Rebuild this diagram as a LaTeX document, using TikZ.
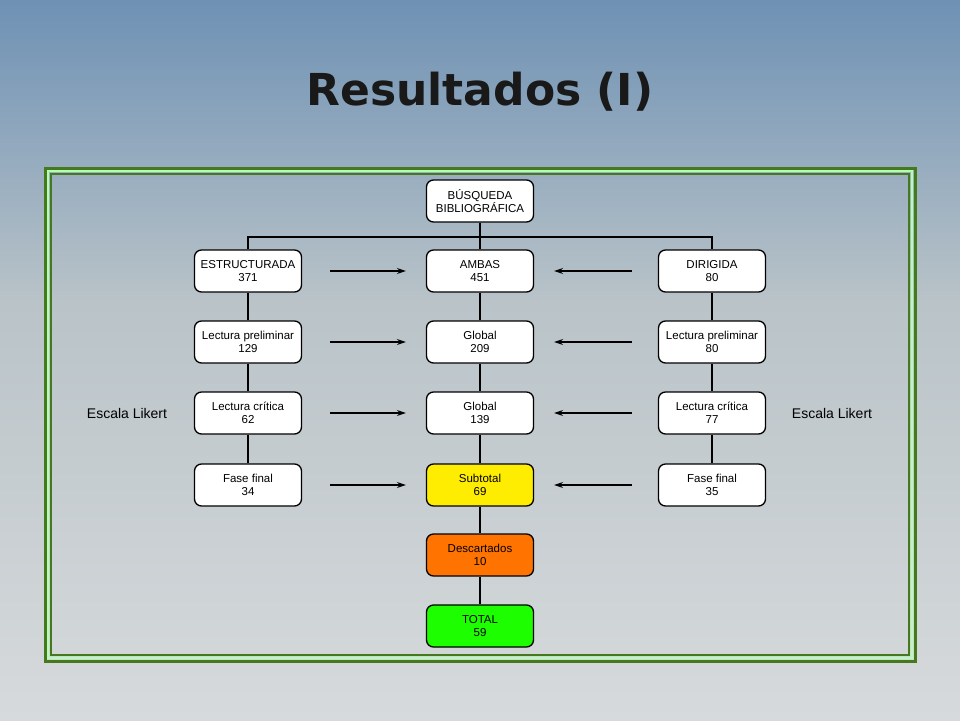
\documentclass[tikz,border=0pt]{standalone}
\usepackage{fontspec}
\setmainfont{Liberation Sans}
\newfontfamily\titlefont{DejaVu Sans}
\usetikzlibrary{arrows.meta}
\definecolor{skytop}{RGB}{110,145,180}
\definecolor{skymid}{RGB}{185,195,200}
\definecolor{skybot}{RGB}{215,218,220}
\definecolor{frameg}{RGB}{70,120,30}
\begin{document}
\begin{tikzpicture}[x=1pt,y=-1pt,
  bx/.style={draw,line width=1.3pt,rounded corners=7pt,fill=white,minimum width=107pt,minimum height=42pt,align=center,font=\fontsize{11.5}{13}\selectfont,inner sep=1pt},
  ln/.style={line width=2pt},
  ar/.style={line width=1.2pt,-{Stealth[length=9pt,width=6pt]}}]
\useasboundingbox (0,0) rectangle (960,720);
\shade[top color=skytop,bottom color=skymid] (0,0) rectangle (960,300);
\shade[top color=skymid,bottom color=skybot] (0,300) rectangle (960,720);
\node[font=\titlefont\bfseries\fontsize{44}{50}\selectfont,text=black!90] (title) at (480,92) {Resultados (I)};
\draw[frameg,line width=3pt] (45,168) rectangle (915,661);
\draw[green!30!white,line width=1.5pt] (48,171) rectangle (912,658);
\draw[frameg,line width=2pt] (51,174) rectangle (909,655);
\node[bx] (top) at (480,201) {BÚSQUEDA\\BIBLIOGRÁFICA};
\node[bx] (l1) at (248,271) {ESTRUCTURADA\\371};
\node[bx] (c1) at (480,271) {AMBAS\\451};
\node[bx] (r1) at (712,271) {DIRIGIDA\\80};
\node[bx] (l2) at (248,342) {Lectura preliminar\\129};
\node[bx] (c2) at (480,342) {Global\\209};
\node[bx] (r2) at (712,342) {Lectura preliminar\\80};
\node[bx] (l3) at (248,413) {Lectura crítica\\62};
\node[bx] (c3) at (480,413) {Global\\139};
\node[bx] (r3) at (712,413) {Lectura crítica\\77};
\node[bx] (l4) at (248,485) {Fase final\\34};
\node[bx,fill=yellow!95!orange] (c4) at (480,485) {Subtotal\\69};
\node[bx] (r4) at (712,485) {Fase final\\35};
\node[bx,fill=orange!90!red] (c5) at (480,555) {Descartados\\10};
\node[bx,fill=green!85!lime] (c6) at (480,626) {TOTAL\\59};
\coordinate (j) at (480,237);
\draw[ln] (top) -- (c1);
\draw[ln] (l1.north) |- (j) -| (r1.north);
\foreach \a/\b in {l1/l2,l2/l3,l3/l4,r1/r2,r2/r3,r3/r4,c1/c2,c2/c3,c3/c4,c4/c5,c5/c6} \draw[ln] (\a) -- (\b);
\foreach \i in {1,2,3,4}{
  \draw[ar] ([xshift=28pt]l\i.east) -- ([xshift=-20pt]c\i.west);
  \draw[ar] ([xshift=-26pt]r\i.west) -- ([xshift=20pt]c\i.east);}
\node[font=\fontsize{14}{16}\selectfont] (lk1) at (127,413) {Escala Likert};
\node[font=\fontsize{14}{16}\selectfont] (lk2) at (832,413) {Escala Likert};
\end{tikzpicture}
\end{document}
